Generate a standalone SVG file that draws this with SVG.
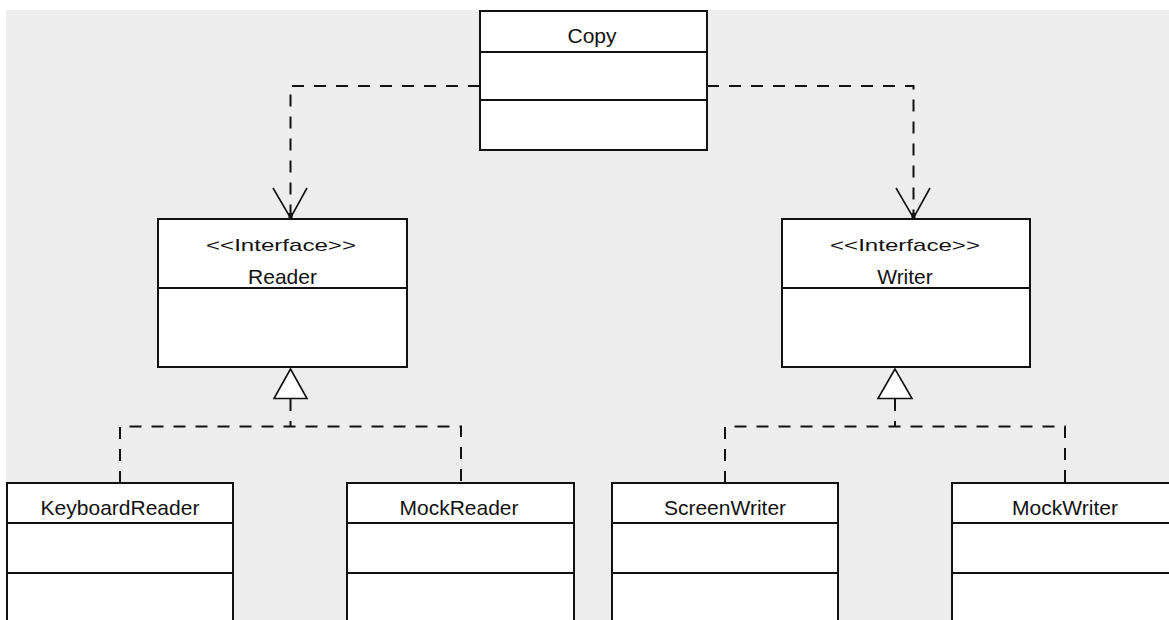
<svg xmlns="http://www.w3.org/2000/svg" width="1169" height="620" viewBox="0 0 1169 620">
  <style>
    .box { fill: #ffffff; stroke: #111111; stroke-width: 2; }
    .sep { stroke: #111111; stroke-width: 2; fill: none; }
    .dash { stroke: #111111; stroke-width: 2; fill: none; stroke-dasharray: 12 10; }
    .head { stroke: #111111; stroke-width: 1.6; fill: none; }
    .tri { fill: #ffffff; stroke: #111111; stroke-width: 1.6; }
    .name { font-family: "Liberation Sans", Arial, sans-serif; font-size: 21px; fill: #111111; text-anchor: middle; }
    .stereo { font-family: "Liberation Sans", Arial, sans-serif; font-size: 17px; fill: #111111; text-anchor: middle; }
  </style>

  <!-- canvas -->
  <rect x="0" y="0" width="1169" height="620" fill="#ffffff"/>
  <rect x="6" y="10" width="1163" height="610" fill="#ededed"/>

  <!-- connectors -->
  <g id="connectors">
    <!-- Copy depends on Reader -->
    <polyline class="dash" points="480,86 290.5,86 290.5,214"/>
    <polyline class="head" points="273,188 290.5,218 307,188"/>
    <rect x="288.5" y="213" width="4" height="5" fill="#111111"/>
    <!-- Copy depends on Writer -->
    <polyline class="dash" points="707,86 913.5,86 913.5,214"/>
    <polyline class="head" points="896,188 913.5,218 930,188"/>
    <rect x="911.5" y="213" width="4" height="5" fill="#111111"/>

    <!-- realizations of Reader -->
    <polyline class="dash" points="120,483 120,426.5 461,426.5 461,483"/>
    <line class="dash" x1="290.5" y1="399" x2="290.5" y2="426.5"/>
    <polygon class="tri" points="290.5,369 274,398.5 307,398.5"/>

    <!-- realizations of Writer -->
    <polyline class="dash" points="725,483 725,426.5 1065,426.5 1065,483"/>
    <line class="dash" x1="895" y1="399" x2="895" y2="426.5"/>
    <polygon class="tri" points="895,369 878,398.5 912,398.5"/>
  </g>

  <g id="copy">
    <rect class="box" x="480" y="11" width="227" height="139"/>
    <line class="sep" x1="480" y1="52" x2="707" y2="52"/>
    <line class="sep" x1="480" y1="100" x2="707" y2="100"/>
    <text class="name" x="592" y="43">Copy</text>
  </g>

  <g id="reader">
    <rect class="box" x="158" y="219" width="249" height="148"/>
    <line class="sep" x1="158" y1="288" x2="407" y2="288"/>
    <text class="stereo" x="281" y="251" textLength="150" lengthAdjust="spacingAndGlyphs">&lt;&lt;Interface&gt;&gt;</text>
    <text class="name" x="282.5" y="284">Reader</text>
  </g>

  <g id="writer">
    <rect class="box" x="782" y="219" width="248" height="148"/>
    <line class="sep" x1="782" y1="288" x2="1030" y2="288"/>
    <text class="stereo" x="905" y="251" textLength="150" lengthAdjust="spacingAndGlyphs">&lt;&lt;Interface&gt;&gt;</text>
    <text class="name" x="905" y="284">Writer</text>
  </g>

  <g id="keyboard-reader">
    <rect class="box" x="7" y="483" width="226" height="160"/>
    <line class="sep" x1="7" y1="523" x2="233" y2="523"/>
    <line class="sep" x1="7" y1="573" x2="233" y2="573"/>
    <text class="name" x="120" y="515">KeyboardReader</text>
  </g>

  <g id="mock-reader">
    <rect class="box" x="347" y="483" width="227" height="160"/>
    <line class="sep" x1="347" y1="523" x2="574" y2="523"/>
    <line class="sep" x1="347" y1="573" x2="574" y2="573"/>
    <text class="name" x="459" y="515">MockReader</text>
  </g>

  <g id="screen-writer">
    <rect class="box" x="612" y="483" width="226" height="160"/>
    <line class="sep" x1="612" y1="523" x2="838" y2="523"/>
    <line class="sep" x1="612" y1="573" x2="838" y2="573"/>
    <text class="name" x="725" y="515">ScreenWriter</text>
  </g>

  <g id="mock-writer">
    <rect class="box" x="952" y="483" width="227" height="160"/>
    <line class="sep" x1="952" y1="523" x2="1179" y2="523"/>
    <line class="sep" x1="952" y1="573" x2="1179" y2="573"/>
    <text class="name" x="1065" y="515">MockWriter</text>
  </g>
</svg>
